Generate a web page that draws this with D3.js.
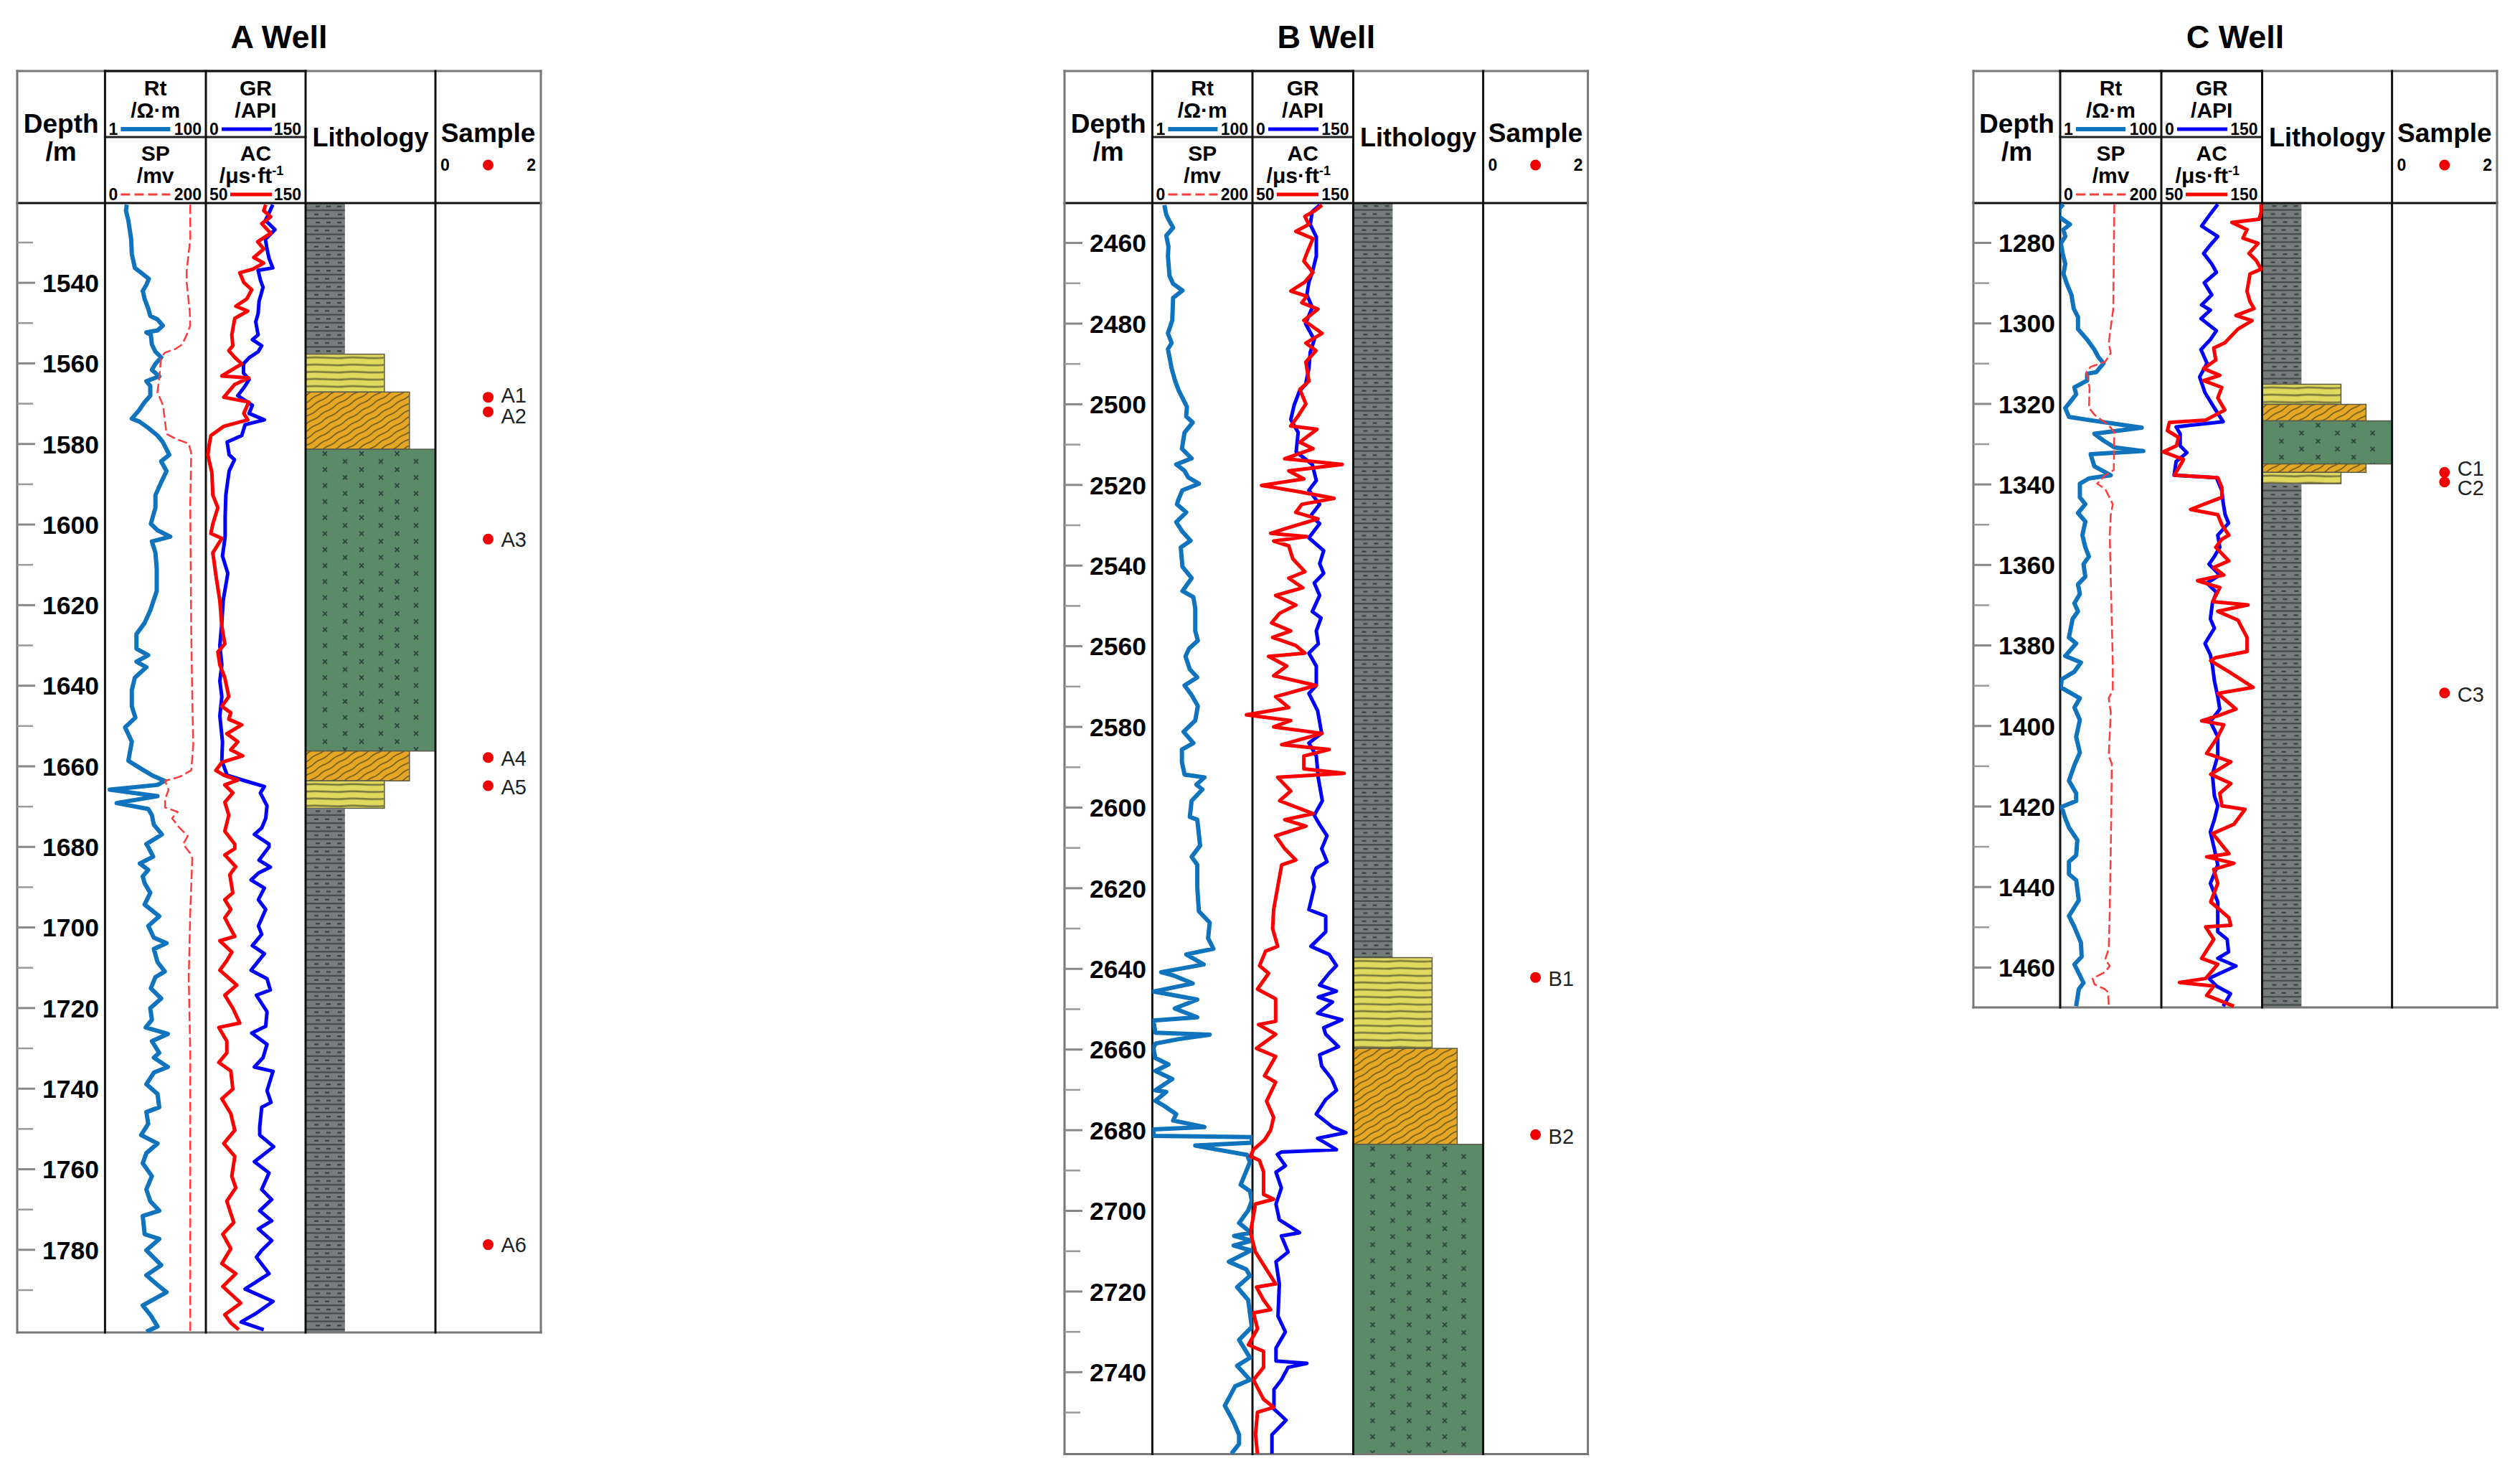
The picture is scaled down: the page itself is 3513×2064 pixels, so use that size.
<!DOCTYPE html>
<html>
<head>
<meta charset="utf-8">
<script src="https://cdn.jsdelivr.net/npm/d3@7"></script>
<style>
  html, body { margin: 0; padding: 0; background: #fff; }
  svg { display: block; }
  text { font-family: "Liberation Sans", Arial, sans-serif; fill: #000; }
</style>
</head>
<body>
<svg id="chart" width="3513" height="2064"></svg>
<script>
// ---- values: [depth, value]
const aRt = [[1520.7,2.7],[1522.2,2.6],[1524.6,2.9],[1529.3,3.3],[1532.9,3.4],[1536.4,3.9],[1537.6,5.2],[1539.1,7.4],[1540.6,6.6],[1542.1,5.6],[1544.1,6.1],[1546.5,7.2],[1548.3,7.9],[1549.2,11],[1550.7,14],[1551.9,11],[1552.4,6.6],[1553,8.1],[1555.4,8.5],[1557.2,10],[1558.6,13],[1560.2,10],[1561.7,8.5],[1563.3,11.9],[1564.5,6.6],[1565.7,7.9],[1568.1,7.9],[1569.7,6.1],[1571.7,4.75],[1573.8,3.4],[1574.5,4.75],[1576.1,7.2],[1578,11],[1579.6,14],[1582.8,18.8],[1584.4,13],[1586.8,16.6],[1589.6,13],[1592.8,10],[1595.9,10],[1599.9,8.1],[1601.5,11],[1603.1,19.7],[1604.3,8.5],[1607.1,10],[1611,10.6],[1616.6,10.6],[1621.4,7.9],[1624.5,6.1],[1627.3,4.2],[1630.9,4.2],[1632.5,7.2],[1634.1,4.2],[1635.5,6.6],[1638.1,3.9],[1641.2,3.4],[1645.2,3.4],[1648,4],[1650.4,2.5],[1654,3.4],[1658.7,2.9],[1660.7,5.2],[1662.3,8.5],[1663.7,15.3],[1664.7,11],[1665.9,1.24],[1667.5,11],[1669.2,1.7],[1670.7,7.2],[1672.2,8.5],[1674.6,9.3],[1677,13.4],[1679.4,6.6],[1680.1,7.2],[1682.5,9],[1684.2,4.9],[1685.8,7.2],[1687.4,5.6],[1689.1,6.1],[1691.5,7.9],[1694.4,6.1],[1697.3,11.9],[1699.7,7.2],[1702.6,9.3],[1704,16.6],[1705.4,9.3],[1708.7,11],[1711,15.3],[1712.4,10],[1715.2,8.1],[1717.7,13],[1720.1,7.9],[1723,8.5],[1724.9,6.4],[1726.5,17.6],[1728.3,8.5],[1731.2,11.9],[1732.4,9.3],[1734.7,17.6],[1736.1,9.3],[1739,6.6],[1741.4,11],[1744.7,11.9],[1745.9,6.6],[1748.8,7.2],[1751.6,5.2],[1753.7,11],[1756.1,6.6],[1758.6,5.6],[1761.8,8.5],[1765.1,6.6],[1768,7.9],[1770.4,11.9],[1771.7,5.6],[1776.2,6.1],[1777.4,11.9],[1780.2,6.6],[1783.9,13],[1786.4,6.6],[1788.8,11],[1790.6,16.6],[1793.9,5.6],[1796.2,7.9],[1799.1,11],[1800.4,6.6]];
const aSp = [[1520.7,169],[1529.3,169],[1537,162],[1540,162],[1547.1,168],[1550.7,169],[1553,162],[1555.4,153],[1556.5,140],[1557.4,119],[1558.7,111],[1563.3,108],[1567.3,104],[1570.5,115],[1574.5,119],[1577.6,122],[1578.8,140],[1580,166],[1582.4,171],[1595.1,169],[1626.9,171],[1642.8,173],[1654.8,175],[1661.1,171],[1662.7,148],[1663.7,119],[1665.9,126],[1668.3,119],[1670.3,119],[1671.4,144],[1673,133],[1675.4,148],[1677.4,164],[1679.4,155],[1681.7,169],[1682.9,173],[1696.4,169],[1712.8,166],[1730.8,169],[1745.5,169],[1778.2,169],[1800.4,169]];
const aGr = [[1520.7,100.6],[1522.8,95],[1524.6,89.6],[1526.9,104],[1529.3,89.6],[1531.7,92],[1534,95],[1536.4,100.6],[1537,78.6],[1539.4,82],[1541.2,86],[1544.7,80],[1547.7,78.6],[1549.8,75],[1553,78.6],[1554.2,70],[1555.7,84],[1557.2,78.6],[1558.7,65],[1560.2,56.6],[1562.5,56.6],[1564.1,65],[1565.7,59],[1568.1,48],[1570.5,70],[1572.5,65],[1574.1,88],[1575.3,59],[1578,54],[1579.6,32],[1582.8,35],[1584,43],[1586.8,35],[1592.8,30],[1598.3,29],[1603.1,29],[1607.9,25],[1612.2,33],[1619,26],[1624.5,24],[1630.1,21],[1634.9,24],[1638.9,21],[1642.8,24],[1647.6,21],[1654,25],[1658.7,24],[1662.3,32],[1663.7,59],[1665.1,88],[1666.7,82],[1669.9,92],[1673,90],[1675.4,84],[1677,73],[1679.4,95],[1680.1,95],[1683.4,80],[1685.1,97],[1686.6,79],[1688.3,68],[1690.3,88],[1693.2,79],[1695.6,90],[1699.7,79],[1701.8,84],[1704.6,70],[1706.6,88],[1710.7,68],[1712.8,92],[1715.6,97],[1716.9,76],[1721,92],[1724.6,90],[1726.3,69],[1729.1,92],[1732.4,86],[1734.7,73],[1735.8,101],[1740.6,92],[1743.5,98],[1744.7,84],[1749.6,81],[1751.6,81],[1754.5,102],[1758.2,73],[1761,95],[1765.1,84],[1767.6,99],[1770.4,81],[1772.9,99],[1774.9,79],[1777.8,99],[1780.2,84],[1781.9,76],[1786,95],[1789.8,59],[1792.9,101],[1795.8,76],[1798,53],[1799.9,87]];
const aAc = [[1520.7,110],[1522.2,108],[1523.7,115],[1525.4,106],[1527.8,115],[1529.9,102],[1531.7,108],[1533.8,98],[1535.2,108],[1536.7,97],[1537.6,84],[1540,88],[1541.8,96],[1544.1,91],[1545.9,80],[1547.1,92],[1548.9,79],[1553,76],[1555.7,77],[1556.9,73],[1558.6,79],[1560.2,86],[1563.2,66],[1563.7,93],[1565.3,79],[1568.5,68],[1569.7,93],[1572.5,88],[1574.1,92],[1575.7,68],[1578,55],[1580.8,53],[1582.8,52],[1587.2,56],[1592.8,57],[1595.9,62],[1599.9,57],[1602.3,55],[1603.5,66],[1607.1,57],[1612.6,60],[1619,64],[1625.3,66],[1629.7,69],[1631.7,62],[1634.9,64],[1638.1,69],[1642.8,73],[1645.2,66],[1646.8,75],[1648.4,73],[1649.8,86],[1652,71],[1654,82],[1656,75],[1657.5,87],[1659.1,66],[1661.1,60],[1662.3,68],[1663.5,82],[1664.7,69],[1666.7,77],[1669,69],[1672.2,73],[1676.2,69],[1679.4,79],[1680.5,79],[1682.1,69],[1685,80],[1687,74],[1691.5,77],[1693.2,69],[1695.6,75],[1697.7,69],[1700.5,75],[1702.3,79],[1703.4,64],[1706.2,76],[1708.3,71],[1710.7,64],[1714.4,81],[1716.9,69],[1720.1,77],[1723.8,84],[1724.9,63],[1728.3,71],[1731.2,71],[1733.6,63],[1735.7,75],[1740.2,77],[1742.6,66],[1746.3,75],[1750.4,79],[1753.7,68],[1756.9,79],[1761.8,76],[1764.7,80],[1768,71],[1773.3,78],[1776.2,67],[1779.8,75],[1783.5,66],[1786,80],[1789.2,67],[1793.3,85],[1796.2,69],[1798.2,75],[1799.9,83]];
const aLith = [['mud',1520.4,1557.8],['silt',1557.8,1567.2],['sand',1567.2,1581.4],['green',1581.4,1656.3],['sand',1656.3,1663.7],['silt',1663.7,1670.5],['mud',1670.5,1800.6]];
const aSampleNames = ['A1','A2','A3','A4','A5','A6'];
const aSampleDepths = [1568.5,1572.1,1603.7,1657.9,1664.9,1778.8];

const bRt = [[2450.7,1.74],[2453.1,1.9],[2454.7,2.2],[2456.3,2.6],[2458.3,1.9],[2461,2.1],[2463.4,2.05],[2468.2,2.2],[2470.2,2.6],[2471.9,4],[2473.7,2.6],[2479.3,2.5],[2482.5,2.05],[2484.9,2.43],[2486.4,2.05],[2491.2,2.43],[2494.4,2.87],[2496.8,3.4],[2500.7,4.9],[2503.1,4.75],[2504.6,6.4],[2507.1,4.4],[2511.1,3.9],[2513.5,6.1],[2515,3],[2516.6,4.4],[2518.2,5.2],[2519.8,8.5],[2521.4,4],[2523.8,3.3],[2524.9,3.1],[2526.9,4.75],[2529.3,3],[2531.7,4],[2533.9,5.8],[2535.6,3.7],[2540.4,4],[2543.2,6.1],[2546.4,4],[2547.9,6.6],[2550.7,7.2],[2556.3,7.2],[2558.7,8.1],[2560.7,5.4],[2562.6,4.6],[2565.8,5.6],[2567.8,7.9],[2569.8,4.4],[2572.2,6.1],[2574.9,8.1],[2578.5,7.2],[2581.3,4.2],[2584.1,6.6],[2585.7,3.9],[2588.8,3.9],[2591.9,4.4],[2592.6,11],[2594.4,7.6],[2595.6,10],[2598.4,6.1],[2602.4,5.6],[2603.1,7.9],[2609.5,9],[2612.3,6.1],[2614.3,7.9],[2619.8,7.9],[2625.8,8.5],[2628.6,14],[2632.5,13],[2635.1,16.6],[2636.5,4.75],[2639,10.6],[2640.9,1.5],[2641.7,2.6],[2643.7,6.4],[2645.7,1.05],[2647.7,7.9],[2649.9,2.8],[2652.1,7.9],[2652.9,1.05],[2655.9,1.15],[2656.4,14],[2657.5,3.4],[2658.6,1.15],[2659.8,1.05],[2662.2,1.15],[2663.8,2.1],[2665.4,1.15],[2667.4,2.5],[2670.2,1.15],[2670.6,1.9],[2672.8,1.15],[2674.1,1.74],[2676.1,3],[2677.7,2.6],[2679.3,11],[2679.9,1.05],[2681.5,1.05],[2681.8,97],[2683.2,97],[2683.9,7.2],[2684.8,18],[2686.2,78],[2688,89],[2693.6,58],[2695.2,89],[2697.6,97],[2700,82],[2703.1,54],[2705.5,93],[2706.3,43],[2707.5,97],[2708.7,42],[2709.9,93],[2712.7,33.8],[2714.6,75],[2716.2,89],[2719,49.5],[2722.2,82],[2728.9,97],[2732.1,54],[2736.5,89],[2738.5,49.5],[2742,89],[2743.6,45],[2748.4,28],[2752.4,42],[2755.6,54],[2757.9,54],[2760.3,38]];
const bGr = [[2450.7,100],[2452.3,89],[2455.5,86],[2458.6,95],[2463.4,95],[2467.4,89],[2469.8,84],[2472.9,81],[2476.1,89],[2480.1,79],[2484.1,92],[2487.2,86],[2491.2,84],[2495.2,79],[2496.8,70],[2500.3,62],[2503.9,57],[2507.1,68],[2511.9,65],[2515,89],[2519,95],[2521.4,84],[2523.8,95],[2524.9,100],[2527.7,87],[2529.7,100],[2533.2,84],[2536.4,106],[2539.6,100],[2542,106],[2544.4,92],[2547.5,100],[2551.5,89],[2553.1,102],[2556.3,95],[2559.5,98],[2561.8,84],[2565,95],[2569.8,95],[2571.8,84],[2576.1,97],[2581.7,103],[2584.1,84],[2587.3,95],[2592.8,98],[2598.4,104],[2602,92],[2604.3,100],[2607.1,111],[2610.3,103],[2613.5,111],[2615.1,95],[2617.4,89],[2619.8,92],[2625.4,84],[2627,109],[2630.9,109],[2634.5,87],[2636.5,114],[2639.3,125],[2641.2,114],[2644.1,100],[2645.6,125],[2647.1,98],[2648.3,119],[2651.1,97],[2652.7,133],[2654.7,106],[2656.3,109],[2659.4,128],[2661.4,100],[2664.2,103],[2667.4,118],[2670.2,125],[2672.5,109],[2676.1,95],[2679.3,119],[2680.7,139],[2682.1,97],[2684.9,125],[2685.5,43],[2686.1,37],[2688.9,49],[2690.5,35],[2694.4,43],[2698.4,35],[2702.3,40],[2705.5,70],[2706.3,43],[2710.3,53],[2712.7,35],[2718.2,40],[2726.2,38],[2730.1,49],[2734.1,35],[2737.3,35],[2737.9,81],[2738.9,53],[2742,43],[2744.4,32],[2749.2,32],[2752,50],[2755.6,29],[2760.3,29]];
const bAc = [[2450.7,119],[2451.9,113],[2453.5,102],[2455.5,106],[2457.2,93],[2459,110],[2462.6,104],[2464.6,101],[2467.4,110],[2469.8,102],[2472,88],[2473.3,104],[2474.9,99],[2476.5,115],[2479.3,101],[2482.5,119],[2484.9,103],[2486.8,113],[2489.6,103],[2494.4,106],[2496.4,97],[2500,103],[2503.1,95],[2505.5,88],[2506.3,114],[2509.5,97],[2511.1,110],[2513.6,82],[2515,139],[2516.6,86],[2518.6,101],[2520.2,59],[2521.8,97],[2523.4,131],[2524.9,99],[2526.9,93],[2528.5,115],[2530.5,88],[2532.1,68],[2532.9,104],[2534,71],[2535.2,86],[2538.4,90],[2541.6,102],[2543.2,86],[2545.6,100],[2547.5,73],[2549.9,93],[2551.9,77],[2554.3,69],[2556.3,88],[2557.9,70],[2559.9,93],[2561.8,102],[2562.6,66],[2565,84],[2567.4,71],[2569.8,113],[2572.6,73],[2575.3,86],[2577.1,44],[2578.5,88],[2580.1,71],[2581.7,119],[2584.5,79],[2585.7,126],[2587.3,101],[2590.5,101],[2591.6,141],[2592.6,75],[2596,88],[2598.4,77],[2601.6,110],[2603.1,82],[2604.7,103],[2607.1,73],[2610.3,82],[2613.1,93],[2614.3,79],[2619.8,75],[2625.4,71],[2630.1,70],[2634.5,75],[2635.7,63],[2639.3,57],[2641.2,66],[2645.1,55],[2647.5,73],[2650.7,73],[2653.1,73],[2653.9,56],[2656.3,73],[2659.8,54],[2661.8,73],[2666.6,62],[2668.2,73],[2672.9,64],[2676.9,71],[2680.1,68],[2682.5,62],[2684.9,51],[2686.5,48],[2687.6,57],[2690.4,61],[2696,61],[2697.2,71],[2698.4,53],[2705.5,48],[2710.3,53],[2712.7,59],[2718.2,73],[2719,54],[2722.2,61],[2724.6,68],[2725.4,51],[2729.3,55],[2733.3,46],[2734.9,61],[2738.9,61],[2742,51],[2746.8,61],[2748.8,71],[2750,55],[2755.6,53],[2760.3,55]];
const bLith = [['mud',2450.2,2637.3],['silt',2637.3,2659.8],['sand',2659.8,2683.6],['green',2683.6,2760.4]];
const bSampleNames = ['B1','B2'];
const bSampleDepths = [2642.2,2681.2];

const cRt = [[1270.5,1.16],[1271.4,0.98],[1273.3,0.9],[1274.4,1.16],[1275.5,1.56],[1276.8,1.16],[1278.5,1.26],[1280.2,1.03],[1282.7,1.12],[1285.3,1.26],[1287.8,1.16],[1290.4,1.37],[1293,1.67],[1296.4,1.85],[1298.5,2.25],[1301.5,2.25],[1304.1,3.41],[1306.6,4.74],[1308.3,5.6],[1310,7.2],[1312.2,5.16],[1312.6,3.41],[1314.3,3.41],[1316,1.91],[1317.7,2.07],[1319.4,1.62],[1321.1,1.26],[1323.3,1.49],[1324.1,3.7],[1326,41],[1327.5,4.74],[1329.2,7.2],[1330.9,11.8],[1331.8,44],[1332.6,4],[1335.6,4.74],[1337.8,10],[1338.6,3.7],[1339.9,2.45],[1343.3,2.45],[1345,3.14],[1347.2,2.25],[1349.3,3.14],[1352.7,2.75],[1355.7,3.14],[1358,3.7],[1359.9,2.89],[1363,3.14],[1364.9,2.25],[1367.3,2.45],[1369.6,1.91],[1371.6,2.25],[1373.5,1.76],[1378.1,1.49],[1379.6,2.07],[1382.7,1.26],[1384.3,2.57],[1386.6,1.91],[1388.5,1.07],[1390.5,1.03],[1393.2,2.45],[1395.5,1.91],[1398.6,2.45],[1402.8,2.07],[1406.7,2.45],[1409.8,1.91],[1413.7,1.49],[1416.8,2.07],[1418.7,2.07],[1420.2,1.07],[1423,1.26],[1425.3,1.49],[1428.4,2.18],[1432.2,2.07],[1433.8,1.49],[1436.9,1.49],[1438.4,2.07],[1443.4,2.33],[1447.3,1.49],[1450,1.91],[1453.9,2.57],[1457.4,2.66],[1459.3,1.91],[1463.9,2.89],[1465.5,2.33],[1469.7,2.07]];
const cSp = [[1270.5,107],[1296.4,105],[1304.9,96],[1307.5,100],[1309.6,89],[1310.9,60],[1312.2,52],[1316,58],[1321.1,57],[1322.8,68],[1325.4,96],[1327.1,107],[1336.5,106],[1337.8,89],[1339.9,73],[1341.2,89],[1345,104],[1347.6,100],[1352.7,98],[1368.8,101],[1384.3,104],[1391.2,104],[1393.2,96],[1396.7,100],[1407.5,96],[1409.4,102],[1423,101],[1446.2,98],[1455.4,96],[1458.1,89],[1459.7,98],[1461.2,89],[1462.8,64],[1464.3,68],[1465.5,89],[1466.3,95],[1469.7,96]];
const cGr = [[1270.5,84],[1272.9,73],[1275.9,60],[1278.5,84],[1280.6,73],[1282.7,63],[1285.3,75],[1287.4,82],[1290,64],[1293,75],[1295.5,60],[1296.8,73],[1298.9,59],[1301.9,82],[1304.1,73],[1306.6,59],[1310,68],[1313.4,57],[1317.3,65],[1321.1,79],[1324.5,92],[1325.8,22],[1327.5,28],[1330.5,28],[1332.2,38],[1334.4,22],[1337.8,19],[1338.4,82],[1341.6,90],[1344.6,92],[1347.6,95],[1349.7,100],[1352.7,84],[1355.7,87],[1358,79],[1359.9,71],[1362.6,87],[1364.6,68],[1366.9,82],[1369.6,76],[1373.5,73],[1375.8,79],[1379.6,65],[1382.4,73],[1385,76],[1388.9,79],[1392.8,84],[1395.9,87],[1399,73],[1402.8,84],[1407.5,84],[1412.1,76],[1417.5,79],[1419.9,84],[1423.3,79],[1426.4,73],[1430.7,79],[1434.6,84],[1439.2,73],[1443.8,84],[1449.2,84],[1451.2,84],[1453.1,98],[1456.2,100],[1457.8,84],[1459.7,111],[1462.8,71],[1464.7,82],[1466.6,103],[1469.7,92]];
const cAc = [[1270.5,149],[1272.5,149],[1274.2,147],[1275,120],[1276.8,135],[1278.9,131],[1280.2,146],[1282.7,137],[1284.4,144],[1286.6,149],[1287.8,138],[1292.1,135],[1294.7,138],[1296.4,142],[1298.1,124],[1299.4,140],[1301.5,126],[1304.9,113],[1306.2,102],[1309.2,104],[1311.3,92],[1313,108],[1314.3,92],[1316,110],[1318.6,106],[1321.6,113],[1324.1,94],[1324.7,58],[1326.7,56],[1328.4,67],[1330.5,65],[1332,52],[1333.9,72],[1337.8,63],[1338.4,106],[1340.8,110],[1343.3,110],[1346.3,79],[1347.6,106],[1350.1,110],[1352.7,117],[1353.7,110],[1355.7,104],[1359.1,117],[1360.7,102],[1362.6,112],[1364,86],[1365.7,108],[1369.2,101],[1370,136],[1371.6,106],[1373.8,126],[1378.1,135],[1381.6,135],[1383.1,104],[1383.9,99],[1386.6,117],[1390.5,141],[1392,106],[1395.9,124],[1397.4,108],[1398.8,90],[1399.8,112],[1402.8,106],[1406.9,95],[1409,119],[1412.1,99],[1414.4,119],[1416.8,108],[1419.9,110],[1420.8,133],[1424.5,122],[1426.8,101],[1431.8,117],[1432.6,95],[1434.2,122],[1435.7,102],[1439.2,106],[1443.8,99],[1447.7,117],[1449.6,119],[1450,94],[1453.1,102],[1457.8,90],[1459.3,106],[1462.8,94],[1463.8,68],[1464.7,102],[1467,95],[1469.7,122]];
const cLith = [['mud',1270.2,1315.2],['silt',1315.2,1320.2],['sand',1320.2,1324.3],['green',1324.3,1335],['sand',1335,1337.1],['silt',1337.1,1339.9],['mud',1339.9,1470]];
const cSampleNames = ['C1','C2','C3'];
const cSampleDepths = [1337.1,1339.5,1391.9];

// lithology column width as share of the track
const lithShare = {mud: 0.303, silt: 0.607, sand: 0.8, green: 1};
const lithFill = {mud: '#777c7c', silt: '#dfda5e', sand: '#e6a824', green: '#5b8a69'};

// ---- layout
const topY = 99, midY = 191, headY = 283;
const wells = [
  {id: 'a', name: 'A Well', x: [24, 146.4, 287, 426, 607, 754], yTop: 283, yBottom: 1857, domain: [1520.3, 1800.6],
   majors: d3.range(1540, 1800, 20), minors: d3.range(1530, 1800, 20),
   rt: aRt, sp: aSp, gr: aGr, ac: aAc, lith: aLith, names: aSampleNames, depths: aSampleDepths,
   labelDy: [-3, 6, 1, 1, 2, 0]},
  {id: 'b', name: 'B Well', x: [1484, 1606.4, 1746, 1886.5, 2067.6, 2213.6], yTop: 283, yBottom: 2026.5, domain: [2450.2, 2760.4],
   majors: d3.range(2460, 2760, 20), minors: d3.range(2470, 2760, 20),
   rt: bRt, sp: null, gr: bGr, ac: bAc, lith: bLith, names: bSampleNames, depths: bSampleDepths,
   labelDy: [2, 3]},
  {id: 'c', name: 'C Well', x: [2751, 2872, 3013, 3153.5, 3334.6, 3481], yTop: 283, yBottom: 1404, domain: [1270.2, 1470],
   majors: d3.range(1280, 1470, 20), minors: d3.range(1290, 1470, 20),
   rt: cRt, sp: cSp, gr: cGr, ac: cAc, lith: cLith, names: cSampleNames, depths: cSampleDepths,
   labelDy: [-5, 8, 2]}
];

const svg = d3.select('#chart');
const defs = svg.append('defs');

// tile for each lithology, anchored on its layer
function makePattern(id, type, x0, y0) {
  if (type === 'mud') {
    const p = defs.append('pattern').attr('id', id).attr('patternUnits', 'userSpaceOnUse')
      .attr('width', 55).attr('height', 22.4).attr('patternTransform', `translate(${x0},${y0})`);
    p.append('rect').attr('width', 55).attr('height', 22.4).attr('fill', lithFill.mud);
    [[10, 14, 29, 44], [21.2, 12, 27, 45]].forEach(r => {
      p.append('rect').attr('y', r[0] - 1.5).attr('width', 55).attr('height', 2).attr('fill', '#3f4444');
      r.slice(1).forEach(dx => {
        p.append('rect').attr('x', dx).attr('y', r[0] - 7).attr('width', 6).attr('height', 2.2).attr('fill', '#3a3e3e');
      });
    });
  } else if (type === 'silt') {
    const p = defs.append('pattern').attr('id', id).attr('patternUnits', 'userSpaceOnUse')
      .attr('width', 110).attr('height', 10).attr('patternTransform', `translate(${x0},${y0})`);
    p.append('rect').attr('width', 110).attr('height', 10).attr('fill', lithFill.silt);
    p.append('path').attr('d', 'M0,5 C20,3 40,7 55,5 C70,3 90,7 110,5')
      .attr('fill', 'none').attr('stroke', '#75743c').attr('stroke-width', 2.6);
  } else if (type === 'sand') {
    const p = defs.append('pattern').attr('id', id).attr('patternUnits', 'userSpaceOnUse')
      .attr('width', 24).attr('height', 8.5).attr('patternTransform', `translate(${x0},${y0}) rotate(-32)`);
    p.append('rect').attr('width', 24).attr('height', 8.5).attr('fill', lithFill.sand);
    p.append('path').attr('d', 'M0,4.2 Q6,2.8 12,4.2 T24,4.2')
      .attr('fill', 'none').attr('stroke', '#5d4f1f').attr('stroke-width', 1.5);
  } else {
    const p = defs.append('pattern').attr('id', id).attr('patternUnits', 'userSpaceOnUse')
      .attr('width', 200).attr('height', 22.3).attr('patternTransform', `translate(${x0},${y0})`);
    p.append('rect').attr('width', 200).attr('height', 22.3).attr('fill', lithFill.green);
    [[27, 6], [55, 17], [78, 6], [105, 17], [127.5, 6], [154, 17]].forEach(m => {
      p.append('path').attr('d', `M${m[0] - 3},${m[1] - 3}L${m[0] + 3},${m[1] + 3}M${m[0] - 3},${m[1] + 3}L${m[0] + 3},${m[1] - 3}`)
        .attr('stroke', '#29423a').attr('stroke-width', 1.8);
    });
  }
}

function headerText(g, str, x, y, size, anchor) {
  return g.append('text').attr('x', x).attr('y', y).attr('font-size', size)
    .attr('font-weight', 'bold').attr('text-anchor', anchor || 'middle').text(str);
}

function drawWell(w) {
  const g = svg.append('g').attr('class', 'well-' + w.id);
  const [x0, x1, x2, x3, x4, x5] = w.x;
  const y = d3.scaleLinear(w.domain, [w.yTop, w.yBottom]);

  const rtX = d3.scaleLog([1, 100], [x1, x2]);
  const spX = d3.scaleLinear([0, 200], [x1, x2]);
  const grX = d3.scaleLinear([0, 150], [x2, x3]);
  const acX = d3.scaleLinear([50, 150], [x2, x3]);
  const lithX = d3.scaleLinear([0, 1], [x3, x4]);
  const sampleX = d3.scaleLinear([0, 2], [x4, x5]);

  headerText(g, w.name, (x0 + x5) / 2, 67, 45);

  // lithology
  w.lith.forEach((d, i) => {
    const id = `lith-${w.id}-${i}`;
    makePattern(id, d[0], x3, y(d[1]));
    g.append('rect').attr('x', x3).attr('y', y(d[1]))
      .attr('width', lithX(lithShare[d[0]]) - x3).attr('height', y(d[2]) - y(d[1]))
      .attr('fill', `url(#${id})`)
      .attr('stroke', d[0] === 'mud' ? 'none' : '#5a5a4a').attr('stroke-width', 1.5);
  });

  // frame
  const grey = '#777';
  const dark = '#111';
  [[x0, topY, x5, topY, grey], [x1, topY, x3, topY, dark], [x0, headY, x5, headY, dark],
   [x1, midY, x3, midY, '#222'], [x0, w.yBottom, x5, w.yBottom, grey],
   [x0, topY, x0, w.yBottom, grey], [x5, topY, x5, w.yBottom, grey],
   [x1, topY, x1, w.yBottom, dark], [x2, topY, x2, w.yBottom, dark],
   [x3, topY, x3, w.yBottom, dark], [x4, topY, x4, w.yBottom, dark]]
    .forEach(l => {
      g.append('line').attr('x1', l[0]).attr('y1', l[1]).attr('x2', l[2]).attr('y2', l[3])
        .attr('stroke', l[4]).attr('stroke-width', 3).attr('stroke-linecap', 'square');
    });

  // depth axis, ticks grow in from the left edge
  const major = g.append('g').attr('transform', `translate(${x0},0)`)
    .call(d3.axisRight(y).tickValues(w.majors).tickSize(25).tickFormat(d3.format('d')));
  major.select('.domain').remove();
  major.selectAll('line').attr('stroke', '#888').attr('stroke-width', 3);
  major.selectAll('text').attr('x', 114).attr('dy', '0.36em').attr('text-anchor', 'end')
    .attr('font-size', 35.5).attr('font-weight', 'bold').attr('font-family', '"Liberation Sans", Arial, sans-serif');
  const minor = g.append('g').attr('transform', `translate(${x0},0)`)
    .call(d3.axisRight(y).tickValues(w.minors).tickSize(22).tickFormat(''));
  minor.select('.domain').remove();
  minor.selectAll('line').attr('stroke', '#999').attr('stroke-width', 2.5);

  // header labels
  const hRt = (x1 + x2) / 2, hGr = (x2 + x3) / 2;
  headerText(g, 'Depth', (x0 + x1) / 2, 185, 37);
  headerText(g, '/m', (x0 + x1) / 2, 224, 37);
  headerText(g, 'Rt', hRt, 133, 30);
  headerText(g, '/Ω·m', hRt, 164, 30);
  headerText(g, 'SP', hRt, 224, 30);
  headerText(g, '/mv', hRt, 255, 30);
  headerText(g, 'GR', hGr, 133, 30);
  headerText(g, '/API', hGr, 164, 30);
  headerText(g, 'AC', hGr, 224, 30);
  const acUnit = headerText(g, '/μs·ft', hGr - 6, 255, 30);
  acUnit.append('tspan').attr('dy', -11).attr('font-size', 18).text('-1');
  headerText(g, 'Lithology', (x3 + x4) / 2, 204, 36);
  headerText(g, 'Sample', (x4 + x5) / 2, 198, 37);

  // legend rows under each track title
  function legendRow(left, right, lo, hi, yLine, from, to, color, width, dash) {
    headerText(g, lo, left + 5, yLine + 8, 23, 'start');
    headerText(g, hi, right - 6, yLine + 8, 23, 'end');
    g.append('line').attr('x1', from).attr('x2', to).attr('y1', yLine).attr('y2', yLine)
      .attr('stroke', color).attr('stroke-width', width).attr('stroke-dasharray', dash || null);
  }
  legendRow(x1, x2, '1', '100', 180, x1 + 22, x1 + 91, '#0f73bd', 6);
  legendRow(x1, x2, '0', '200', 271, x1 + 22, x1 + 91, '#ff3b3b', 3, '13 6');
  legendRow(x2, x3, '0', '150', 180, x2 + 22, x2 + 92, '#0000ff', 5);
  legendRow(x2, x3, '50', '150', 271, x2 + 34, x2 + 92, '#ff0000', 5);
  headerText(g, '0', x4 + 7, 238, 23, 'start');
  headerText(g, '2', x5 - 7, 238, 23, 'end');
  g.append('circle').attr('cx', sampleX(1)).attr('cy', 230).attr('r', 7.5).attr('fill', '#f00000');

  // log curves
  const clipId = 'rt-clip-' + w.id;
  defs.append('clipPath').attr('id', clipId).append('rect')
    .attr('x', x1).attr('y', w.yTop).attr('width', x2 - x1).attr('height', w.yBottom - w.yTop);

  function curve(data, xScale, color, width, dash, clip) {
    if (!data) return;
    const line = d3.line().x(d => xScale(d[1])).y(d => y(d[0]));
    g.append('path').datum(data).attr('d', line).attr('fill', 'none')
      .attr('stroke', color).attr('stroke-width', width).attr('stroke-linejoin', 'round')
      .attr('stroke-dasharray', dash || null).attr('clip-path', clip ? `url(#${clip})` : null);
  }
  curve(w.rt, rtX, '#0f73bd', 6, null, clipId);
  curve(w.sp, spX, '#ff3b3b', 2.5, '13 5');
  curve(w.gr, grX, '#0000ff', 5);
  curve(w.ac, acX, '#ff0000', 5);

  // samples, all plotted at the middle of the 0-2 scale
  w.names.forEach((name, i) => {
    g.append('circle').attr('cx', sampleX(1)).attr('cy', y(w.depths[i])).attr('r', 7.5).attr('fill', '#f00000');
    g.append('text').attr('x', sampleX(1) + 18).attr('y', y(w.depths[i]) + 10 + w.labelDy[i])
      .attr('font-size', 29).style('fill', '#222').text(name);
  });
}

wells.forEach(drawWell);
</script>
</body>
</html>
